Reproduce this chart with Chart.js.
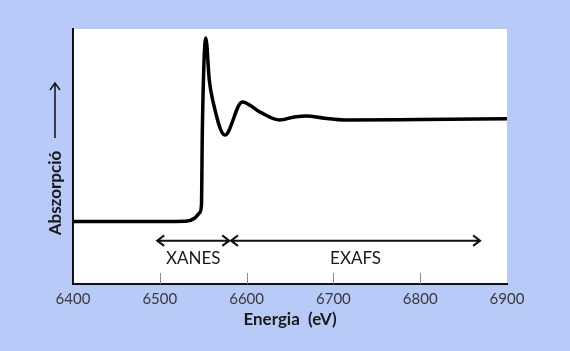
<!DOCTYPE html>
<html>
<head>
<meta charset="utf-8">
<script src="https://cdn.jsdelivr.net/npm/chart.js@4"></script>
<style>
  html, body { margin: 0; padding: 0; background: #b7caf8; }
  #wrap { width: 570px; height: 351px; }
</style>
</head>
<body>
<div id="wrap"><canvas id="xasChart" width="570" height="351"></canvas></div>
<script>
// spectrum (energy in eV, absorption in arbitrary units 0..100)
const energy = [6400, 6500, 6530, 6540, 6546, 6548, 6549, 6553, 6557, 6561, 6575, 6595, 6615, 6638, 6655, 6669, 6690, 6712, 6800, 6900];
const absorption = [24.5, 24.5, 24.6, 25.8, 28, 31, 60, 96.5, 80, 72, 58.4, 71.4, 67.5, 64.3, 65.5, 65.9, 65, 64.3, 64.5, 64.8];

const xTicks = [6400, 6500, 6600, 6700, 6800, 6900];

// annotated regions below the curve
const regionNames = ['XANES', 'EXAFS'];
const regionStart = [6497, 6582];
const regionEnd = [6580, 6869];
const arrowLevel = 17;
const labelLevel = 9.8;

const xasDecor = {
    id: 'xasDecor',
    beforeDraw(chart) {
        const ctx = chart.ctx;
        const a = chart.chartArea;
        ctx.save();
        ctx.fillStyle = '#b7caf8';
        ctx.fillRect(0, 0, chart.width, chart.height);
        ctx.fillStyle = '#ffffff';
        ctx.fillRect(a.left, a.top, a.right - a.left, a.bottom - a.top);
        ctx.restore();
    },
    afterDraw(chart) {
        const ctx = chart.ctx;
        const x = chart.scales.x;
        const y = chart.scales.y;
        const a = chart.chartArea;
        ctx.save();

        // inner tick marks
        ctx.strokeStyle = '#8a8a8a';
        ctx.lineWidth = 1;
        xTicks.slice(1, -1).forEach(v => {
            const px = Math.round(x.getPixelForValue(v)) + 0.5;
            ctx.beginPath();
            ctx.moveTo(px, a.bottom);
            ctx.lineTo(px, a.bottom - 11);
            ctx.stroke();
        });

        // region arrows and names
        ctx.strokeStyle = '#111111';
        ctx.lineWidth = 2;
        ctx.fillStyle = '#1a1a1a';
        ctx.font = '17px Lato';
        ctx.textAlign = 'center';
        ctx.textBaseline = 'middle';
        const ay = y.getPixelForValue(arrowLevel);
        const head = 7;
        regionNames.forEach((name, i) => {
            const x0 = x.getPixelForValue(regionStart[i]);
            const x1 = x.getPixelForValue(regionEnd[i]);
            ctx.beginPath();
            ctx.moveTo(x0, ay);
            ctx.lineTo(x1, ay);
            ctx.moveTo(x0 + head, ay - head * 0.75);
            ctx.lineTo(x0, ay);
            ctx.lineTo(x0 + head, ay + head * 0.75);
            ctx.moveTo(x1 - head, ay - head * 0.75);
            ctx.lineTo(x1, ay);
            ctx.lineTo(x1 - head, ay + head * 0.75);
            ctx.stroke();
            const mid = (regionStart[i] + regionEnd[i]) / 2;
            ctx.fillText(name, x.getPixelForValue(mid), y.getPixelForValue(labelLevel));
        });

        // y title with arrow
        const tx = 56;
        ctx.save();
        ctx.translate(tx, 193);
        ctx.rotate(-Math.PI / 2);
        ctx.font = 'bold 17px Lato';
        ctx.fillText('Abszorpció', 0, 0);
        ctx.restore();
        ctx.lineWidth = 1.5;
        ctx.beginPath();
        ctx.moveTo(tx - 1, 138);
        ctx.lineTo(tx - 1, 83);
        ctx.moveTo(tx - 6, 90);
        ctx.lineTo(tx - 1, 83);
        ctx.lineTo(tx + 4, 90);
        ctx.stroke();

        ctx.restore();
    }
};

const ctx = document.getElementById('xasChart').getContext('2d');
new Chart(ctx, {
    type: 'line',
    data: {
        datasets: [{
            label: 'Abszorpció',
            data: energy.map((e, i) => ({ x: e, y: absorption[i] })),
            borderColor: '#000000',
            borderWidth: 3.5,
            fill: false,
            pointRadius: 0,
            cubicInterpolationMode: 'monotone'
        }]
    },
    options: {
        responsive: false,
        animation: false,
        layout: {
            padding: { top: 29, right: 63, bottom: 0, left: 0 }
        },
        plugins: {
            legend: { display: false },
            tooltip: { enabled: false }
        },
        scales: {
            x: {
                type: 'linear',
                min: 6400,
                max: 6900,
                afterBuildTicks: s => { s.ticks = xTicks.map(v => ({ value: v })); },
                afterFit: s => { s.height = 67; },
                grid: { display: false, drawTicks: false },
                border: { display: true, color: '#111111', width: 2 },
                ticks: {
                    color: '#3a3a3a',
                    font: { family: 'Lato', size: 15 },
                    padding: 6,
                    maxRotation: 0,
                    callback: v => String(v)
                },
                title: {
                    display: true,
                    text: 'Energia  (eV)',
                    color: '#1a1a1a',
                    font: { family: 'Lato', size: 17, weight: 'bold' },
                    padding: { top: 2, bottom: 21 }
                }
            },
            y: {
                min: 0,
                max: 100,
                afterFit: s => { s.width = 73; },
                grid: { display: false, drawTicks: false },
                border: { display: true, color: '#111111', width: 2 },
                ticks: { display: false }
            }
        }
    },
    plugins: [xasDecor]
});
</script>
</body>
</html>
